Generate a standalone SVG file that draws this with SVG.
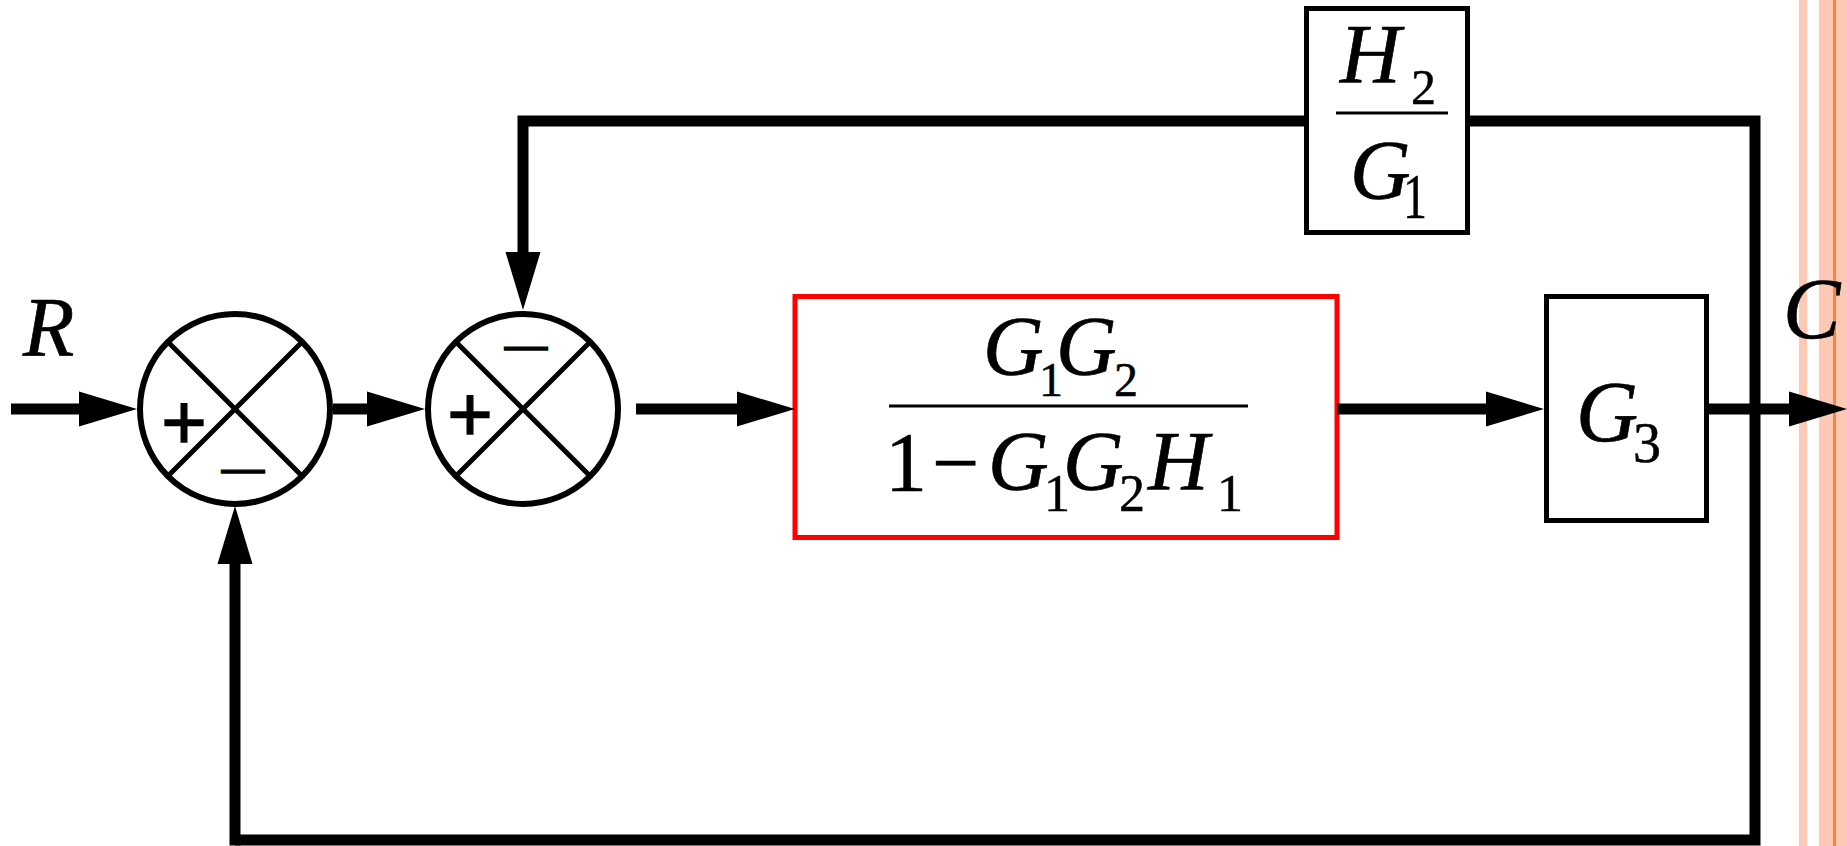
<svg xmlns="http://www.w3.org/2000/svg" width="1847" height="846" viewBox="0 0 1847 846">
<style>
.math{font-family:"Liberation Serif","Times New Roman",serif;font-style:italic;fill:#000;stroke:#000;stroke-width:0.7}
.num{font-family:"Liberation Serif","Times New Roman",serif;font-style:normal;fill:#000;stroke:#000;stroke-width:0.5}
.sign{font-family:"Liberation Sans",Arial,sans-serif;fill:#000;stroke:#000;stroke-width:1.4}
.blk{fill:#fff;stroke:#000;stroke-width:5}
.red{fill:#fff;stroke:#ff0000;stroke-width:5}
.sum{fill:#fff;stroke:#000;stroke-width:6}
.x{stroke:#000;stroke-width:5}
.bar{stroke:#000;stroke-width:3}
.wire{fill:none;stroke:#000;stroke-width:11;stroke-linejoin:miter;marker-end:url(#arr)}
.wire2{fill:none;stroke:#000;stroke-width:11;stroke-linejoin:miter}
</style>
<defs>
<marker id="arr" markerUnits="userSpaceOnUse" viewBox="0 -18 58 36" refX="0" refY="0" markerWidth="58" markerHeight="36" orient="auto" overflow="visible">
<path d="M0,-17.5 L58,0 L0,17.5 Z" fill="#000"/>
</marker>
</defs>
<rect width="1847" height="846" fill="#fff"/>
<g id="edge-decor">
<rect x="1799" y="0" width="8" height="846" fill="#fdc9b5"/>
<rect x="1819" y="0" width="28" height="846" fill="#fdc9b5"/>
<rect x="1833" y="0" width="3" height="846" fill="#f6873c"/>
</g>
<g id="sum1">
<circle class="sum" cx="235" cy="409" r="95"/>
<line class="x" x1="168" y1="342" x2="302" y2="476"/>
<line class="x" x1="302" y1="342" x2="168" y2="476"/>
<text class="sign" x="184" y="449" font-size="78" text-anchor="middle">+</text>
<text class="sign" x="243" y="482" font-size="43" text-anchor="middle">—</text>
</g>
<g id="sum2">
<circle class="sum" cx="523" cy="409" r="95"/>
<line class="x" x1="456" y1="342" x2="590" y2="476"/>
<line class="x" x1="590" y1="342" x2="456" y2="476"/>
<text class="sign" x="470" y="441" font-size="78" text-anchor="middle">+</text>
<text class="sign" x="526" y="359" font-size="43" text-anchor="middle">—</text>
</g>
<g id="block-g1g2">
<rect class="red" x="795" y="296.5" width="542" height="241"/>
<text class="math" font-size="84"><tspan x="983" y="375">G</tspan><tspan class="num" x="1039" y="396" font-size="48">1</tspan><tspan x="1056" y="375">G</tspan><tspan class="num" x="1114" y="396" font-size="48">2</tspan></text>
<line class="bar" x1="889" y1="406" x2="1248" y2="406"/>
<text class="num" x="885" y="491" font-size="84">1</text>
<text class="num" x="932" y="491" font-size="84">−</text>
<text class="math" font-size="84"><tspan x="988" y="490">G</tspan><tspan class="num" x="1044" y="511" font-size="52">1</tspan><tspan x="1063" y="490">G</tspan><tspan class="num" x="1119" y="511" font-size="52">2</tspan><tspan x="1148" y="490">H</tspan><tspan class="num" x="1217" y="511" font-size="52">1</tspan></text>
</g>
<g id="block-g3">
<rect class="blk" x="1546.5" y="296.5" width="160" height="224"/>
<text class="math" x="1576" y="441" font-size="86">G</text>
<text class="num" x="1633" y="462" font-size="56">3</text>
</g>
<g id="block-h2g1">
<rect class="blk" x="1306.5" y="8.5" width="161" height="224"/>
<text class="math" x="1340" y="83" font-size="84">H</text>
<text class="num" x="1411" y="104" font-size="50">2</text>
<line class="bar" x1="1336" y1="113" x2="1448" y2="113"/>
<text class="math" x="1350" y="199" font-size="84">G</text>
<text class="num" x="1403" y="218" font-size="64" textLength="24" lengthAdjust="spacingAndGlyphs">1</text>
</g>
<g id="labels">
<text class="math" x="23" y="356" font-size="84">R</text>
<text class="math" x="1783" y="338" font-size="86">C</text>
</g>
<g id="connectors">
<path class="wire" d="M11,409 H79"/>
<path class="wire" d="M333,409 H367"/>
<path class="wire" d="M636,409 H737"/>
<path class="wire" d="M1337,409 H1486"/>
<path class="wire" d="M1709,409 H1789"/>
<path class="wire2" d="M1470,121 H1755 V840 H235"/>
<path class="wire" d="M235,845.5 V564"/>
<path class="wire" d="M1304,121 H523 V252"/>
</g>
</svg>
